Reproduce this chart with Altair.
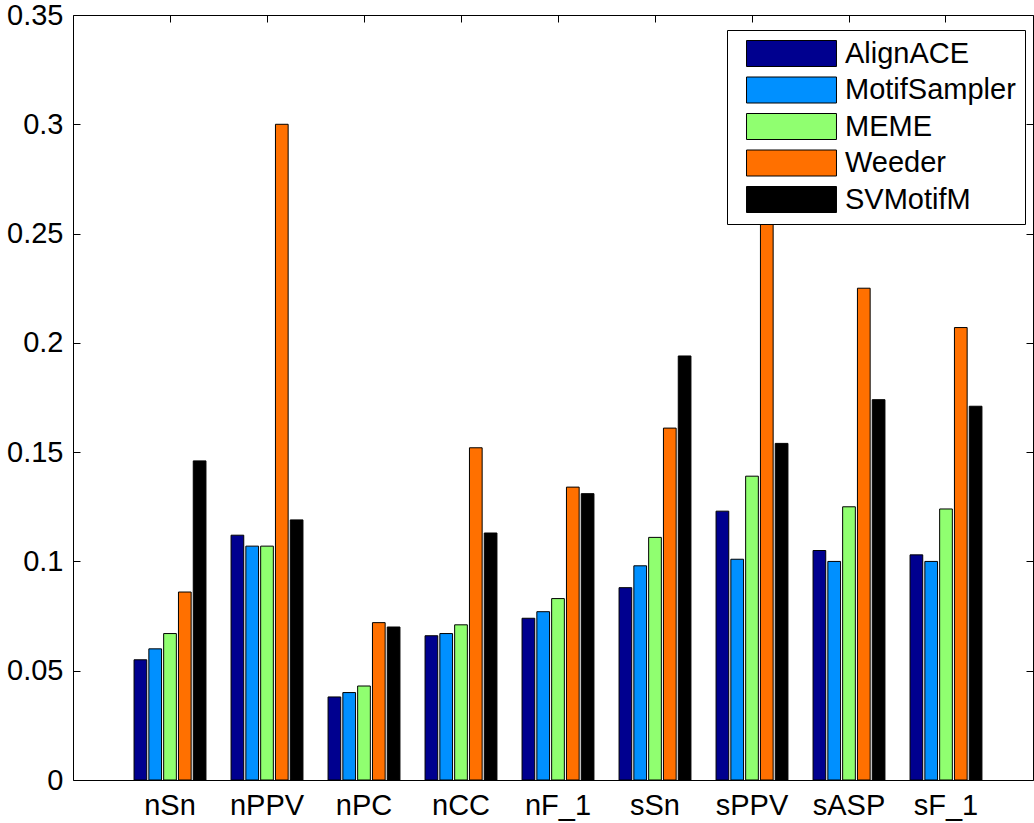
import altair as alt
import pandas as pd

FONT = "Liberation Sans"

categories = ["nSn", "nPPV", "nPC", "nCC", "nF_1", "sSn", "sPPV", "sASP", "sF_1"]
series = ["AlignACE", "MotifSampler", "MEME", "Weeder", "SVMotifM"]

alignace = [0.055, 0.112, 0.038, 0.066, 0.074, 0.088, 0.123, 0.105, 0.103]
motifsampler = [0.060, 0.107, 0.040, 0.067, 0.077, 0.098, 0.101, 0.100, 0.100]
meme = [0.067, 0.107, 0.043, 0.071, 0.083, 0.111, 0.139, 0.125, 0.124]
weeder = [0.086, 0.300, 0.072, 0.152, 0.134, 0.161, 0.270, 0.225, 0.207]
svmotifm = [0.146, 0.119, 0.070, 0.113, 0.131, 0.194, 0.154, 0.174, 0.171]

colors = ["#00008F", "#0090FF", "#90FF70", "#FF7000", "#000000"]
y_ticks = [0, 0.05, 0.1, 0.15, 0.2, 0.25, 0.3, 0.35]

values_by_series = [alignace, motifsampler, meme, weeder, svmotifm]
rows = []
for s, vals in zip(series, values_by_series):
    for c, v in zip(categories, vals):
        rows.append({"category": c, "series": s, "value": v})
df = pd.DataFrame(rows)

x_scale = alt.Scale(domain=categories, paddingInner=0, paddingOuter=0.4485, align=0.5575)
y_scale = alt.Scale(domain=[0, 0.35], nice=False, zero=True)

bars = alt.Chart(df).mark_bar(stroke="black", strokeWidth=1).encode(
    x=alt.X(
        "category:N", sort=categories, scale=x_scale,
        axis=alt.Axis(orient="bottom", title=None, labelAngle=0, ticks=False, tickSize=0,
                      domain=False, labelPadding=11, labelFontSize=29, labelColor="black",
                      labelFont=FONT),
    ),
    xOffset=alt.XOffset(
        "series:N", sort=series,
        scale=alt.Scale(domain=series, paddingInner=0.142, paddingOuter=0.848),
    ),
    y=alt.Y(
        "value:Q", scale=y_scale,
        axis=alt.Axis(orient="left", title=None, values=y_ticks, format=".2~f", offset=-7,
                      tickSize=7, tickColor="black", domain=False, grid=False, labelPadding=10,
                      labelFontSize=29, labelColor="black", labelFont=FONT),
    ),
    color=alt.Color(
        "series:N", sort=series, scale=alt.Scale(domain=series, range=colors),
        legend=alt.Legend(
            title=None, orient="none", legendX=654, legendY=15,
            symbolType="M-3.46,-1L3.46,-1L3.46,1L-3.46,1Z", symbolSize=676,
            symbolStrokeColor="black", symbolStrokeWidth=1, symbolOpacity=1,
            labelFontSize=29, labelFont=FONT, labelColor="black", labelOffset=39,
            rowPadding=5.5, padding=9, symbolOffset=41, strokeColor="black",
            fillColor="white", labelLimit=400, cornerRadius=0,
        ),
    ),
)

frame = alt.Chart(df).mark_bar(opacity=0).encode(
    x=alt.X(
        "category:N", sort=categories, scale=x_scale,
        axis=alt.Axis(orient="top", title=None, labels=False, offset=-7, tickSize=7,
                      tickColor="black", domain=False),
    ),
    y=alt.Y(
        "value:Q", scale=y_scale,
        axis=alt.Axis(orient="right", title=None, labels=False, values=y_ticks, offset=-7,
                      tickSize=7, tickColor="black", domain=False, grid=False),
    ),
)

chart = (
    alt.layer(bars, frame)
    .resolve_axis(x="independent", y="independent")
    .properties(
        width=960, height=765,
        padding={"left": 73, "top": 15, "right": 1, "bottom": 43},
        autosize=alt.AutoSizeParams(type="none"),
        background="white",
    )
    .configure_view(stroke="black", strokeWidth=1)
)

chart.save("out.html", embed_options={"renderer": "svg", "actions": False})
